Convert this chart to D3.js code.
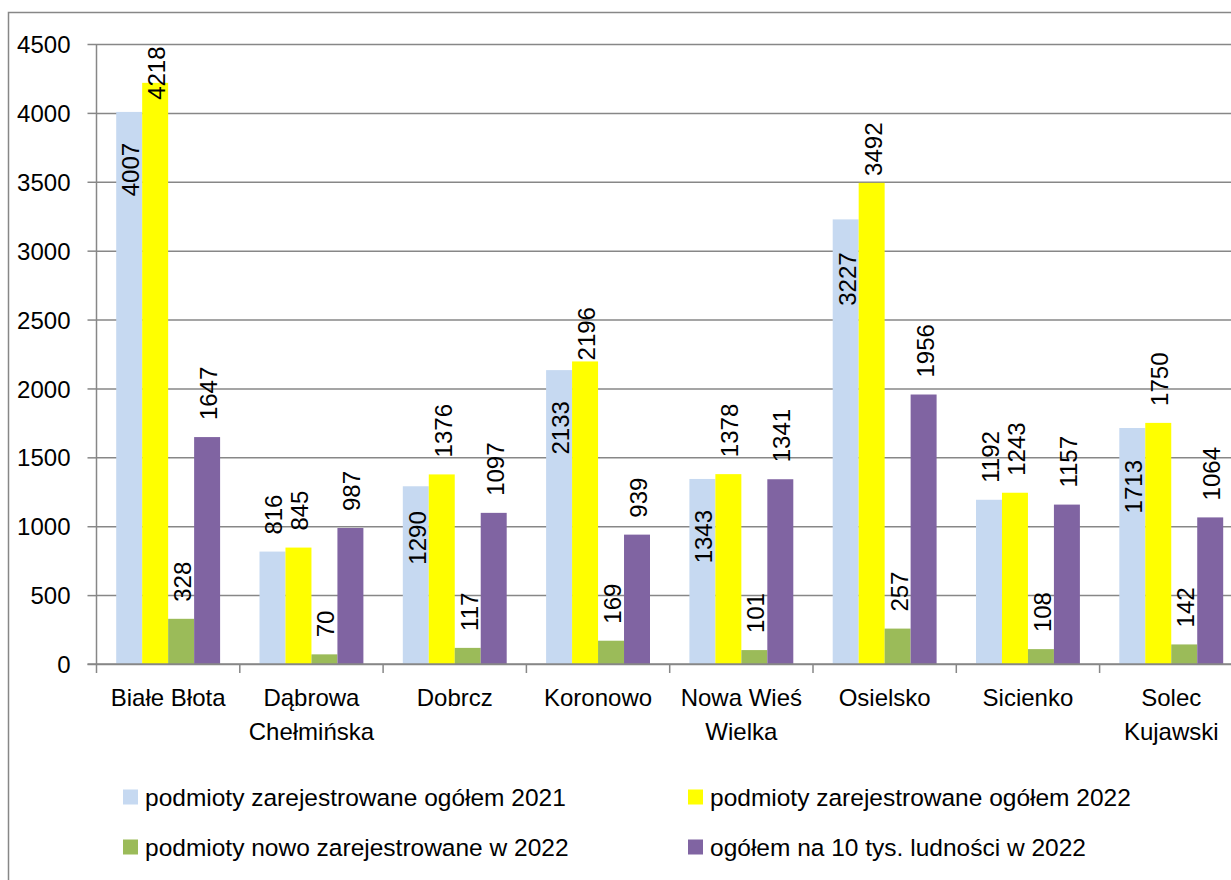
<!DOCTYPE html>
<html>
<head>
<meta charset="utf-8">
<script src="https://cdn.jsdelivr.net/npm/d3@7"></script>
<style>
  html, body { margin: 0; padding: 0; background: #ffffff; }
  svg { display: block; }
  text { font-family: "Liberation Sans", Arial, sans-serif; fill: #000; }
</style>
</head>
<body>
<svg id="chart" width="1231" height="880"></svg>
<script>
// ---- data ----
const categories = ["Białe Błota", "Dąbrowa Chełmińska", "Dobrcz", "Koronowo", "Nowa Wieś Wielka", "Osielsko", "Sicienko", "Solec Kujawski"];
const seriesNames = [
  "podmioty zarejestrowane ogółem 2021",
  "podmioty zarejestrowane ogółem 2022",
  "podmioty nowo zarejestrowane w 2022",
  "ogółem na 10 tys. ludności w 2022"
];
const registered2021 = [4007, 816, 1290, 2133, 1343, 3227, 1192, 1713];
const registered2022 = [4218, 845, 1376, 2196, 1378, 3492, 1243, 1750];
const newlyRegistered2022 = [328, 70, 117, 169, 101, 257, 108, 142];
const per10kResidents2022 = [1647, 987, 1097, 939, 1341, 1956, 1157, 1064];
const yTickValues = [0, 500, 1000, 1500, 2000, 2500, 3000, 3500, 4000, 4500];

// ---- styling / layout ----
const seriesColors = ["#C6D9F1", "#FFFF00", "#9BBB59", "#8064A2"];
const gridColor = "#878787";
const fontSize = 24;
// label placement adjustments, keyed "series-category"
const labelLayout = {
  "0-0": { inside: 31 }, "0-2": { inside: 25 }, "0-3": { inside: 31 },
  "0-4": { inside: 31 }, "0-5": { inside: 33 }, "0-7": { inside: 32 },
  "1-0": { gap: -17 }, "1-3": { gap: 1 }, "1-5": { gap: 7 }
};
const defaultGap = 17;

const seriesValues = [registered2021, registered2022, newlyRegistered2022, per10kResidents2022];

const svg = d3.select("#chart");
const plot = { left: 96.5, top: 44, bottom: 664, step: 143.3 };
plot.right = plot.left + plot.step * categories.length;

const x = d3.scaleBand().domain(categories).range([plot.left, plot.right]).paddingInner(0).paddingOuter(0);
const xs = d3.scaleBand().domain(d3.range(seriesNames.length)).range([19.7, plot.step - 19.7]).paddingInner(0).paddingOuter(0);
const y = d3.scaleLinear().domain([0, 4500]).range([plot.bottom, plot.top]);

// outer chart border
svg.append("path")
  .attr("d", `M8.5,880 L8.5,12.5 L1231,12.5`)
  .attr("fill", "none").attr("stroke", gridColor).attr("stroke-width", 1.5);

// gridlines
const grid = svg.append("g")
  .attr("transform", `translate(${plot.left},0)`)
  .call(d3.axisLeft(y).tickValues(yTickValues).tickSize(-(plot.right - plot.left)).tickFormat(""));
grid.select(".domain").remove();
grid.selectAll("line").attr("stroke", gridColor).attr("stroke-width", 1.5);

// bars
const barsG = svg.append("g");
seriesValues.forEach((vals, si) => {
  barsG.selectAll(null)
    .data(vals.map((v, ci) => ({ v, ci })))
    .join("rect")
    .attr("x", d => x(categories[d.ci]) + xs(si))
    .attr("width", xs.bandwidth())
    .attr("y", d => y(d.v))
    .attr("height", d => y(0) - y(d.v))
    .attr("fill", seriesColors[si]);
});

// y axis
const yAxis = svg.append("g")
  .attr("transform", `translate(${plot.left},0)`)
  .call(d3.axisLeft(y).tickValues(yTickValues).tickSize(9).tickPadding(17).tickFormat(d3.format("d")));
yAxis.select(".domain").attr("stroke", gridColor).attr("stroke-width", 1.5).attr("d", `M0,${plot.top}V${plot.bottom}`);
yAxis.selectAll(".tick line").attr("stroke", gridColor).attr("stroke-width", 1.5);
yAxis.selectAll(".tick text")
  .attr("font-size", fontSize).attr("font-family", "Liberation Sans, Arial, sans-serif")
  .attr("fill", "#000").attr("dy", "0.36em");

// x axis
const xAxis = svg.append("g").attr("transform", `translate(0,${plot.bottom})`);
xAxis.append("line")
  .attr("x1", plot.left - 9).attr("x2", plot.right)
  .attr("y1", 0).attr("y2", 0)
  .attr("stroke", gridColor).attr("stroke-width", 1.5);
xAxis.selectAll(null)
  .data(d3.range(categories.length + 1))
  .join("line")
  .attr("x1", i => plot.left + i * x.step()).attr("x2", i => plot.left + i * x.step())
  .attr("y1", 0).attr("y2", 9)
  .attr("stroke", gridColor).attr("stroke-width", 1.5);

// category labels with wrapping
const catLabels = xAxis.selectAll(null)
  .data(categories)
  .join("text")
  .attr("text-anchor", "middle")
  .attr("font-size", fontSize)
  .attr("x", d => x(d) + x.bandwidth() / 2)
  .attr("y", 42);
catLabels.each(function (d) {
  const t = d3.select(this);
  const words = d.split(" ");
  const lines = [];
  let line = [];
  const probe = t.append("tspan");
  words.forEach(w => {
    const trial = line.concat([w]).join(" ");
    probe.text(trial);
    if (probe.node().getComputedTextLength() > x.bandwidth() - 6 && line.length) {
      lines.push(line.join(" "));
      line = [w];
    } else {
      line.push(w);
    }
  });
  lines.push(line.join(" "));
  probe.remove();
  lines.forEach((l, i) => {
    t.append("tspan")
      .attr("x", x(d) + x.bandwidth() / 2)
      .attr("dy", i === 0 ? 0 : 34)
      .text(l);
  });
});

// data labels
const labelsG = svg.append("g");
seriesValues.forEach((vals, si) => {
  vals.forEach((v, ci) => {
    const cx = x(categories[ci]) + xs(si) + xs.bandwidth() / 2;
    const top = y(v);
    const lay = labelLayout[`${si}-${ci}`] || {};
    let anchor = "start", pos;
    if (lay.inside !== undefined) {
      anchor = "end";
      pos = top + lay.inside;
    } else {
      const gap = lay.gap !== undefined ? lay.gap : defaultGap;
      pos = top - gap;
    }
    labelsG.append("text")
      .attr("transform", `translate(${cx},${pos}) rotate(-90)`)
      .attr("text-anchor", anchor)
      .attr("y", 10)
      .attr("font-size", fontSize)
      .text(d3.format("d")(v));
  });
});

// legend
const legendItems = [
  { name: seriesNames[0], color: seriesColors[0], x: 123, y: 797 },
  { name: seriesNames[1], color: seriesColors[1], x: 688, y: 797 },
  { name: seriesNames[2], color: seriesColors[2], x: 123, y: 847 },
  { name: seriesNames[3], color: seriesColors[3], x: 688, y: 847 }
];
const legend = svg.append("g");
legendItems.forEach(it => {
  legend.append("rect")
    .attr("x", it.x).attr("y", it.y - 7.5)
    .attr("width", 15).attr("height", 15)
    .attr("fill", it.color);
  legend.append("text")
    .attr("x", it.x + 22).attr("y", it.y)
    .attr("dy", "0.36em")
    .attr("font-size", 24.5)
    .text(it.name);
});
</script>
</body>
</html>
